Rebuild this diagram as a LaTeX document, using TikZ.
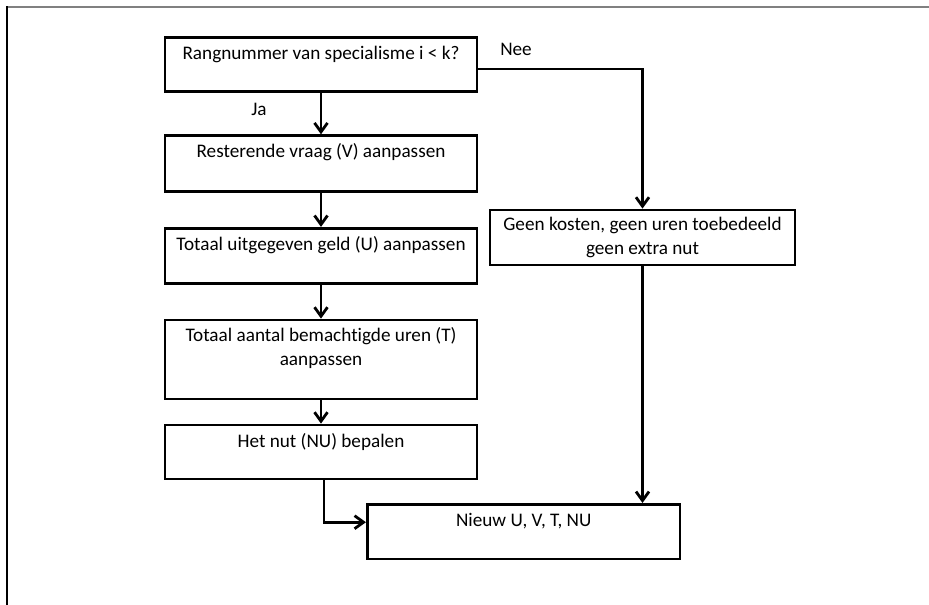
\documentclass[tikz,border=0pt]{standalone}
\usepackage{fontspec}
\setmainfont{Carlito}[Ligatures=NoCommon]
\usetikzlibrary{arrows.meta}
\begin{document}
\begin{tikzpicture}[x=1pt,y=-1pt,
  box/.style={draw, line width=2.8pt, rectangle, inner sep=0pt},
  txt/.style={anchor=north, inner sep=0pt, align=center, font=\fontsize{19.2}{24}\selectfont, execute at begin node=\rule{0pt}{15pt}},
  lbl/.style={inner sep=0pt, font=\fontsize{19.2}{24}\selectfont},
  conn/.style={line width=2.8pt},
  arr/.style={conn, -{Straight Barb[length=9pt,width=13pt,line width=2.8pt]}}]
\useasboundingbox (0,0) rectangle (929,605);
% frame
\draw[line width=2pt, black!50] (6,6.5) -- (929,6.5);
\draw[line width=2pt, black] (7,6) -- (7,605);
% boxes
\node[box, minimum width=312pt, minimum height=54pt] (b1) at (321,64.5) {};
\node[box, minimum width=312pt, minimum height=56pt] (b2) at (321,163.7) {};
\node[box, minimum width=312pt, minimum height=55pt] (b3) at (321,255.8) {};
\node[box, minimum width=312pt, minimum height=79pt] (b4) at (321,359.5) {};
\node[box, minimum width=312pt, minimum height=54pt] (b5) at (321,452) {};
\node[box, minimum width=312.7pt, minimum height=54.7pt] (b6) at (523.7,531.7) {};
\node[box, minimum width=305pt, minimum height=55pt] (g) at (642.5,237.5) {};
% texts
\node[txt] (t1) at ([yshift=-8.4pt]b1.north) {Rangnummer van specialisme i < k?};
\node[txt] (t2) at ([yshift=-8.4pt]b2.north) {Resterende vraag (V) aanpassen};
\node[txt] (t3) at ([yshift=-8.4pt]b3.north) {Totaal uitgegeven geld (U) aanpassen};
\node[txt] (t4) at ([yshift=-8.4pt]b4.north) {Totaal aantal bemachtigde uren (T)\\aanpassen};
\node[txt] (t5) at ([yshift=-8.4pt]b5.north) {Het nut (NU) bepalen};
\node[txt] (t6) at ([yshift=-8.4pt]b6.north) {Nieuw U, V, T, NU};
\node[txt] (tg) at ([yshift=-8.4pt]g.north) {Geen kosten, geen uren toebedeeld\\geen extra nut};
% labels
\node[lbl] (ja) at (259,109) {Ja};
\node[lbl] (nee) at (516,49) {Nee};
% connectors
\draw[arr] (b1) -- (b2);
\draw[arr] (b2) -- (b3);
\draw[arr] (b3) -- (b4);
\draw[arr] (b4) -- (b5);
\draw[arr] ([yshift=-4.5pt]b1.east) -| (g);
\draw[arr] (g) -- (g |- b6.north);
\draw[arr] ([xshift=3pt]b5.south) |- ([yshift=9.5pt]b6.west);
\end{tikzpicture}
\end{document}
